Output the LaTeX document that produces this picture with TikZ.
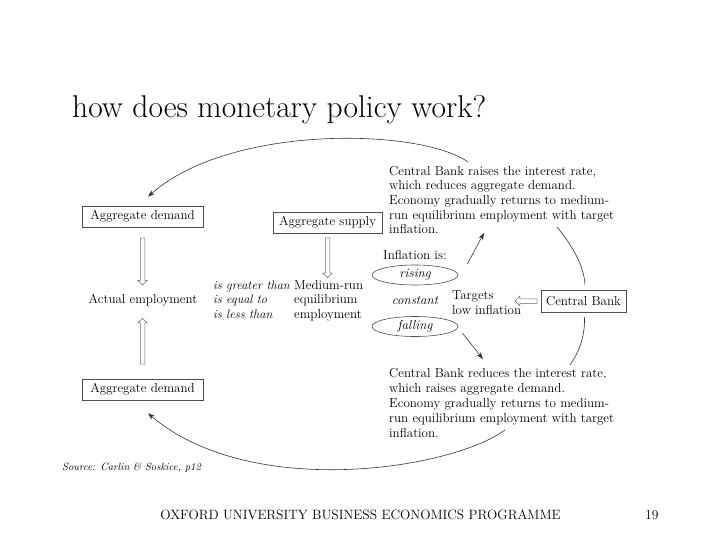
\documentclass[tikz,border=0pt]{standalone}
\usepackage{fontspec}
\usetikzlibrary{arrows.meta,shapes.geometric,shapes.arrows}

\begin{document}
\begin{tikzpicture}[x=1pt, y=-1pt, >={Stealth[length=7pt,width=5pt]},
  box/.style={draw=black!70, line width=0.6pt, fill=white, inner xsep=2pt, minimum height=21pt, font=\fontsize{13}{15}\selectfont},
  txt/.style={inner sep=0pt, font=\fontsize{13}{14.6}\selectfont},
  itxt/.style={txt, font=\fontsize{13}{14.5}\selectfont\itshape},
  oval/.style={ellipse, draw=black!70, line width=0.6pt, minimum width=86pt, minimum height=20pt, inner sep=0pt, font=\fontsize{13}{15}\selectfont\itshape},
  hollow/.style={single arrow, draw=black!60, line width=0.5pt, inner sep=2pt, single arrow head extend=2.5pt, midway, sloped, allow upside down},
  link/.style={->, line width=0.6pt, draw=black!80},
  curve/.style={line width=0.6pt, draw=black!80}]
  \useasboundingbox (0,0) rectangle (720,540);

  % ==== title ====
  \node[txt, font=\fontsize{31.5}{33}\selectfont, anchor=base west] (title) at (72,118) {how does monetary policy work?};

  % ==== left column ====
  \node[box, minimum width=121pt] (ad1) at (142.5,216.5) {Aggregate demand};
  \node[txt, anchor=base] (actemp) at (143,303) {Actual employment};
  \node[box, minimum width=121pt] (ad2) at (142.5,389.5) {Aggregate demand};
  \path (ad1.south) -- (ad1.south |- actemp.north) node[hollow, minimum height=47pt] (adarr1) {};
  \path (ad2.north) -- (ad2.north |- actemp.south) node[hollow, minimum height=46pt] (adarr2) {};

  % ==== middle column ====
  \node[box, minimum width=109pt] (as) at (327.5,222.5) {Aggregate supply};
  \node[itxt, font=\fontsize{12.4}{14.5}\selectfont\itshape, align=left, anchor=north west] (cmp) at (213,280.5) {is greater than\\is equal to\\is less than};
  \node[txt, align=left, anchor=north west, font=\fontsize{13}{14.5}\selectfont] (mre) at (294,280) {Medium-run\\equilibrium\\employment};
  \path (as.south) -- (as.south |- mre.north) node[hollow, minimum height=40pt] (asarr) {};

  % ==== inflation ====
  \node[txt, anchor=base west] (inflis) at (383,259) {Inflation is:};
  \node[oval] (rising) at (415,275) {rising};
  \node[itxt, anchor=base] (constant) at (415,304.5) {constant};
  \node[oval] (falling) at (415,326.5) {falling};
  \node[txt, align=left, anchor=north west, font=\fontsize{13}{15}\selectfont] (targets) at (452,290) {Targets\\low inflation};
  \node[box, minimum width=85pt, minimum height=22pt] (cb) at (583.5,301) {Central Bank};
  \path (cb.west) -- ([xshift=-27pt]cb.west) node[hollow, minimum height=22pt] (cbarr) {};

  % ==== central bank reactions ====
  \node[txt, align=left, anchor=north west] (raise) at (389,166) {Central Bank raises the interest rate,\\which reduces aggregate demand.\\Economy gradually returns to medium-\\run equilibrium employment with target\\inflation.};
  \node[txt, align=left, anchor=north west, font=\fontsize{13}{15}\selectfont] (reduce) at (389,368) {Central Bank reduces the interest rate,\\which raises aggregate demand.\\Economy gradually returns to medium-\\run equilibrium employment with target\\inflation.};

  % ==== arrows ====
  \coordinate (risingto) at (484,233);
  \coordinate (fallingto) at (483,359);
  \draw[link] ([xshift=9pt,yshift=11pt]rising.east) -- (risingto);
  \draw[link] ([xshift=4pt,yshift=-6.5pt]falling.east) -- (fallingto);

  % big loop
  \coordinate (topfrom) at (468,162);
  \coordinate (rightfrom) at (557,227);
  \coordinate (rightto) at (570,365);
  \coordinate (botfrom) at (505,430);
  \draw[link] (topfrom) .. controls (420,128) and (230,124) .. ([xshift=5.5pt,yshift=9pt]ad1.north);
  \draw[curve] (rightfrom) .. controls (572,245) and (584,266) .. ([xshift=1.5pt,yshift=5pt]cb.north);
  \draw[curve] ([xshift=1pt,yshift=-5pt]cb.south) .. controls (585,337) and (579,352) .. (rightto);
  \draw[link] (botfrom) .. controls (450,470) and (250,500) .. ([xshift=5.5pt,yshift=-13pt]ad2.south);

  % ==== footer ====
  \node[txt, font=\fontsize{10.5}{12}\selectfont\itshape, anchor=base west] (source) at (62,470) {Source: Carlin \& Soskice, p12};
  \node[txt, font=\fontsize{13.5}{15}\selectfont, anchor=base] (footer) at (360.5,519) {OXFORD UNIVERSITY BUSINESS ECONOMICS PROGRAMME};
  \node[txt, font=\fontsize{13.5}{15}\selectfont, anchor=base west] (page) at (645,519) {19};
\end{tikzpicture}
\end{document}
